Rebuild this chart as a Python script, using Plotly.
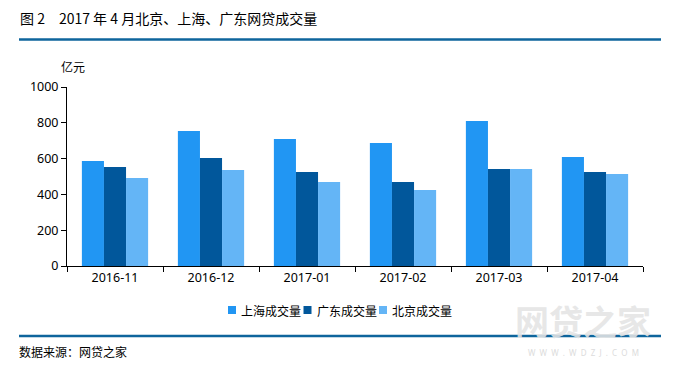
import plotly.graph_objects as go

categories = ["2016-11", "2016-12", "2017-01", "2017-02", "2017-03", "2017-04"]
shanghai = [587, 754, 709, 687, 810, 609]
guangdong = [553, 603, 525, 469, 542, 525]
beijing = [492, 536, 469, 425, 542, 514]
series_names = ["上海成交量", "广东成交量", "北京成交量"]
colors = ["#2196F3", "#01579B", "#64B5F6"]
y_ticks = [0, 200, 400, 600, 800, 1000]

CJK = "Noto Sans CJK SC"
NUM = "Noto Sans"

fig = go.Figure()
for name, vals, c in zip(series_names, [shanghai, guangdong, beijing], colors):
    fig.add_trace(go.Bar(x=categories, y=vals, name=name, marker=dict(color=c, line=dict(width=0))))

fig.update_layout(
    width=678, height=365,
    margin=dict(l=67, r=35, t=87, b=99, autoexpand=False),
    plot_bgcolor="white", paper_bgcolor="white",
    barmode="group", bargap=0.31, bargroupgap=0,
    font=dict(family=CJK, size=12, color="#000"),
    showlegend=False,
)
fig.update_xaxes(
    type="category",
    range=[-0.5, 5.5], tickson="boundaries", ticks="outside", ticklen=5, tickcolor="#000",
    showline=True, linecolor="#000", linewidth=1, showgrid=False,
    tickfont=dict(family=NUM, size=12.5, color="#000"),
)
fig.update_yaxes(
    range=[0, 1000], tickvals=y_ticks, ticks="outside", ticklen=5, tickcolor="#000",
    showline=True, linecolor="#000", linewidth=1, showgrid=False, zeroline=False,
    tickfont=dict(family=NUM, size=12.5, color="#000"),
)

W = 576.0
H = 179.0
def px(x):
    return (x - 67) / W
def py(y):
    return (266 - y) / H

line_color = "#0E659C"
fig.add_shape(type="line", xref="paper", yref="paper", x0=px(19), x1=px(661), y0=py(39.5), y1=py(39.5),
              line=dict(color=line_color, width=2.5))
fig.add_shape(type="line", xref="paper", yref="paper", x0=px(19), x1=px(661), y0=py(336), y1=py(336),
              line=dict(color=line_color, width=2.5))

# manual compact legend
for i, (name, c) in enumerate(zip(series_names, colors)):
    x0 = 228 + i * 75.5
    fig.add_shape(type="rect", xref="paper", yref="paper", x0=px(x0), x1=px(x0 + 8),
                  y0=py(314), y1=py(306), fillcolor=c, line=dict(width=0))
    fig.add_annotation(text=name, xref="paper", yref="paper", x=px(x0 + 11), y=py(310),
                       xanchor="left", yanchor="middle", showarrow=False,
                       font=dict(family=CJK, size=12, color="#000"))

fig.add_annotation(text="图 2　2017 年 4 月北京、上海、广东网贷成交量", xref="paper", yref="paper",
                   x=px(18), y=py(18), xanchor="left", yanchor="middle", showarrow=False,
                   font=dict(family=CJK, size=14, color="#000"))
fig.add_annotation(text="亿元", xref="paper", yref="paper", x=px(73), y=py(66),
                   xanchor="center", yanchor="middle", showarrow=False,
                   font=dict(family=CJK, size=12, color="#000"))
fig.add_annotation(text="数据来源：网贷之家", xref="paper", yref="paper", x=px(17), y=py(351),
                   xanchor="left", yanchor="middle", showarrow=False,
                   font=dict(family=CJK, size=12, color="#000"))
fig.add_annotation(text="<b>网贷之家</b>", xref="paper", yref="paper", x=px(583), y=py(320),
                   xanchor="center", yanchor="middle", showarrow=False,
                   font=dict(family=CJK, size=34, color="rgba(228,228,228,0.9)"))
fig.add_annotation(text="W  W  W  .  W  D  Z  J  .  C  O  M", xref="paper", yref="paper",
                   x=px(583), y=py(352.5),
                   xanchor="center", yanchor="middle", showarrow=False,
                   font=dict(family=NUM, size=8, color="#DCDCDC"))

fig.write_html("out.html", config={"displayModeBar": False},
               post_script="document.body.style.margin='0';")
